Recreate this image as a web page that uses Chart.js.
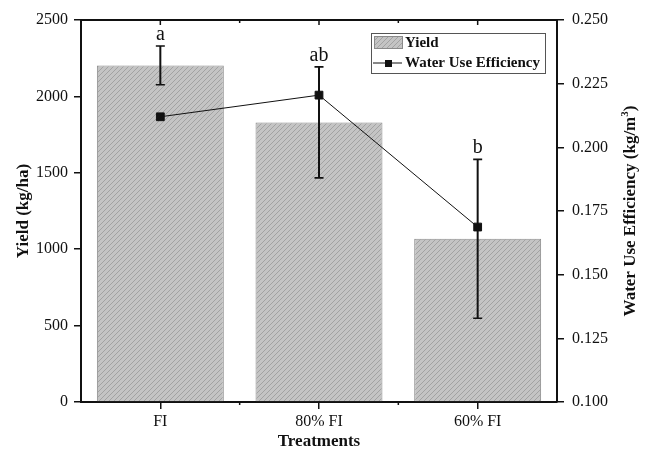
<!DOCTYPE html>
<html>
<head>
<meta charset="utf-8">
<script src="https://cdn.jsdelivr.net/npm/chart.js@4.4.0/dist/chart.umd.min.js"></script>
<style>
  html, body { margin: 0; padding: 0; background: #fff; }
</style>
</head>
<body>
<canvas id="chart" width="646" height="452"></canvas>
<script>
const categories = ["FI", "80% FI", "60% FI"]
const yieldValues = [2203, 1830, 1068]
const yieldErrors = [127, 363, 520]
const wueValues = [0.212, 0.2205, 0.1687]
const letters = ["a", "ab", "b"]
const yieldTicks = [0, 500, 1000, 1500, 2000, 2500]
const wueTicks = [0.1, 0.125, 0.15, 0.175, 0.2, 0.225, 0.25]

const FONT = "'Liberation Serif', 'Times New Roman', serif"
const INK = "#111"

function makeHatch(ctx) {
  const c = document.createElement("canvas")
  c.width = 5
  c.height = 5
  const g = c.getContext("2d")
  g.fillStyle = "#c4c4c4"
  g.fillRect(0, 0, 5, 5)
  g.strokeStyle = "#a2a2a2"
  g.lineWidth = 1
  g.beginPath()
  g.moveTo(-1, 6); g.lineTo(6, -1)
  g.moveTo(-1, 1); g.lineTo(1, -1)
  g.moveTo(4, 6); g.lineTo(6, 4)
  g.stroke()
  return ctx.createPattern(c, "repeat")
}

const ctx = document.getElementById("chart").getContext("2d")
const hatch = makeHatch(ctx)

// error bars, letters, frame ticks, legend and right title
const extras = {
  id: "extras",
  afterDatasetsDraw(chart) {
    const c = chart.ctx
    const y = chart.scales.y
    const meta = chart.getDatasetMeta(0)
    c.save()
    c.strokeStyle = INK
    c.fillStyle = INK
    c.font = "20px " + FONT
    c.textAlign = "center"
    c.textBaseline = "alphabetic"
    meta.data.forEach((bar, i) => {
      const top = y.getPixelForValue(yieldValues[i] + yieldErrors[i])
      const bot = y.getPixelForValue(yieldValues[i] - yieldErrors[i])
      c.lineWidth = 2
      c.beginPath()
      c.moveTo(bar.x, top); c.lineTo(bar.x, bot)
      c.stroke()
      c.lineWidth = 1.6
      c.beginPath()
      c.moveTo(bar.x - 4.5, top); c.lineTo(bar.x + 4.5, top)
      c.moveTo(bar.x - 4.5, bot); c.lineTo(bar.x + 4.5, bot)
      c.stroke()
      c.fillText(letters[i], bar.x, top - 6)
    })
    c.restore()
  },
  afterDraw(chart) {
    const c = chart.ctx
    const a = chart.chartArea
    const x = chart.scales.x
    c.save()
    c.strokeStyle = INK

    // top frame line
    c.lineWidth = 2
    c.beginPath()
    c.moveTo(a.left - 1, a.top); c.lineTo(a.right + 1, a.top)
    c.stroke()

    // top inward ticks + minor ticks between categories
    c.lineWidth = 1.5
    c.beginPath()
    categories.forEach((cat, i) => {
      const px = x.getPixelForValue(i)
      c.moveTo(px, a.top); c.lineTo(px, a.top + 5)
      if (i > 0) {
        const bx = (px + x.getPixelForValue(i - 1)) / 2
        c.moveTo(bx, a.top); c.lineTo(bx, a.top + 3)
        c.moveTo(bx, a.bottom); c.lineTo(bx, a.bottom + 3)
      }
    })
    c.stroke()

    // legend
    const lw = 174, lh = 40
    const lx = a.right - 12 - lw, ly = a.top + 13
    c.fillStyle = "#fff"
    c.fillRect(lx, ly, lw, lh)
    c.strokeStyle = "#555"
    c.lineWidth = 1
    c.strokeRect(lx + 0.5, ly + 0.5, lw, lh)

    c.fillStyle = hatch
    c.fillRect(lx + 3, ly + 3, 28, 12)
    c.strokeStyle = "#8a8a8a"
    c.strokeRect(lx + 3.5, ly + 3.5, 28, 12)

    c.strokeStyle = INK
    c.lineWidth = 1
    c.beginPath()
    c.moveTo(lx + 2, ly + 30); c.lineTo(lx + 31, ly + 30)
    c.stroke()
    c.fillStyle = INK
    c.fillRect(lx + 14, ly + 27, 7, 7)

    c.font = "bold 15px " + FONT
    c.textAlign = "left"
    c.textBaseline = "middle"
    c.fillText("Yield", lx + 34, ly + 10)
    c.fillText("Water Use Efficiency", lx + 34, ly + 30)

    // right axis title, reading bottom to top
    const main = "Water Use Efficiency (kg/m"
    c.font = "bold 17px " + FONT
    const w1 = c.measureText(main).width
    const w2 = c.measureText(")").width
    c.font = "bold 11px " + FONT
    const w3 = c.measureText("3").width
    const total = w1 + w2 + w3
    c.translate(631, (a.top + a.bottom) / 2)
    c.rotate(-Math.PI / 2)
    c.textBaseline = "middle"
    c.font = "bold 17px " + FONT
    c.fillText(main, -total / 2, 0)
    c.fillText(")", -total / 2 + w1 + w3, 0)
    c.font = "bold 11px " + FONT
    c.fillText("3", -total / 2 + w1, -6)
    c.restore()
  }
}

new Chart(ctx, {
  type: "bar",
  data: {
    labels: categories,
    datasets: [
      {
        label: "Yield",
        data: yieldValues,
        backgroundColor: hatch,
        borderColor: "#8a8a8a",
        borderWidth: 1,
        categoryPercentage: 0.8,
        barPercentage: 1.0,
        yAxisID: "y",
        order: 2
      },
      {
        type: "line",
        label: "Water Use Efficiency",
        data: wueValues,
        borderColor: INK,
        borderWidth: 1,
        pointStyle: "rect",
        pointRadius: 5.5,
        pointBackgroundColor: INK,
        pointBorderColor: INK,
        tension: 0,
        yAxisID: "y1",
        order: 1
      }
    ]
  },
  options: {
    responsive: false,
    animation: false,
    layout: { padding: { top: 20, left: 0, right: 0, bottom: 0 } },
    plugins: {
      legend: { display: false },
      tooltip: { enabled: false }
    },
    scales: {
      x: {
        offset: true,
        afterFit: (s) => { s.height = 50 },
        grid: { offset: false, drawOnChartArea: false, color: INK, lineWidth: 1.5, tickLength: 7 },
        border: { color: INK, width: 2 },
        ticks: { color: INK, padding: 3, font: { family: FONT, size: 16 } },
        title: {
          display: true,
          text: "Treatments",
          color: INK,
          padding: { top: 0, bottom: 0 },
          font: { family: FONT, size: 17, weight: "bold" }
        }
      },
      y: {
        position: "left",
        min: 0,
        max: 2500,
        afterFit: (s) => { s.width = 81 },
        afterBuildTicks: (s) => { s.ticks = yieldTicks.map((v) => ({ value: v })) },
        grid: { drawOnChartArea: false, color: INK, lineWidth: 1.5, tickLength: 7 },
        border: { color: INK, width: 2 },
        ticks: {
          color: INK,
          padding: 6,
          font: { family: FONT, size: 16 },
          callback: (v) => String(v)
        },
        title: {
          display: true,
          text: "Yield (kg/ha)",
          color: INK,
          padding: { top: 13, bottom: 0 },
          font: { family: FONT, size: 17, weight: "bold" }
        }
      },
      y1: {
        position: "right",
        min: 0.1,
        max: 0.25,
        afterFit: (s) => { s.width = 89 },
        afterBuildTicks: (s) => { s.ticks = wueTicks.map((v) => ({ value: v })) },
        grid: { drawOnChartArea: false, color: INK, lineWidth: 1.5, tickLength: 7 },
        border: { color: INK, width: 2 },
        ticks: {
          color: INK,
          padding: 8,
          font: { family: FONT, size: 16 },
          callback: (v) => Number(v).toFixed(3)
        }
      }
    }
  },
  plugins: [extras]
})
</script>
</body>
</html>
